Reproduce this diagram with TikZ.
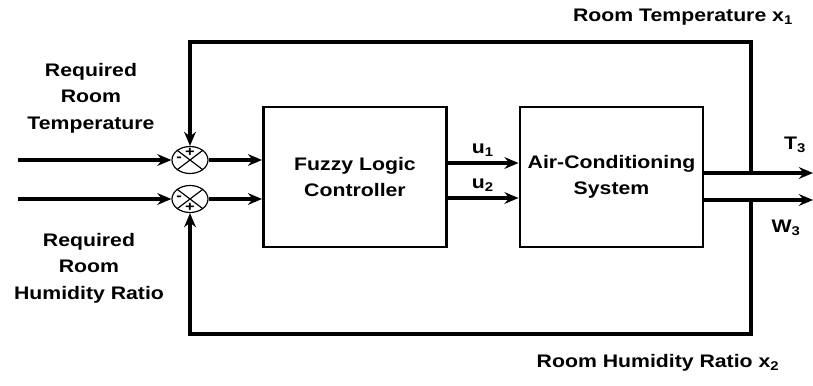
\documentclass[tikz,border=0pt]{standalone}
\usepackage{fontspec}
\setmainfont{Liberation Sans}[FakeStretch=1.17]
\usetikzlibrary{arrows.meta,shapes.geometric}

\begin{document}
\begin{tikzpicture}[x=0.03cm, y=-0.03cm, >={Stealth[length=12pt,width=10pt]},
  font=\fontsize{15.5}{22.7}\selectfont\bfseries, line width=2.6pt,
  block/.style={draw, rectangle, minimum width=5.5cm, minimum height=4.2cm, line width=2.2pt, align=center},
  summer/.style={draw, ellipse, minimum width=1.08cm, minimum height=0.81cm, inner sep=0pt, line width=1pt},
  sign/.style={font=\fontsize{12}{12}\selectfont\bfseries, inner sep=0pt}]

\useasboundingbox (0,0) rectangle (813,385);

% blocks
\node [block] (flc) at (355,177) {Fuzzy Logic\\Controller};
\node [block] (acs) at (611.5,177) {Air-Conditioning\\System};

% summing junctions
\foreach \n/\y in {1/160,2/199}{
  \node [summer] (sum-\n) at (190,\y) {};
  \draw [line width=1pt] (sum-\n.north east) -- (sum-\n.south west)
    (sum-\n.north west) -- (sum-\n.south east);
  \coordinate (in-\n) at (18,\y);
  \draw [->] (in-\n) -- (sum-\n.west);
  \draw [->] (sum-\n.east) -- (sum-\n -| flc.west);
}
\node [sign] (p-1) at (190,152) {+};
\node [sign] (m-1) at (179,159) {-};
\node [sign] (m-2) at (179,198) {-};
\node [sign] (p-2) at (190,207) {+};

% controls u1, u2
\foreach \n/\y in {1/163,2/198}{
  \coordinate (u-\n) at (447,\y);
  \draw [->] (u-\n) -- (u-\n -| acs.west) node [above, midway, yshift=1pt] {u\textsubscript{\n}};
}

% outputs and feedback
\coordinate (tap-T) at (751,173);
\coordinate (tap-W) at (751,200);
\coordinate (out-T) at (813,173);
\coordinate (out-W) at (813,200);
\draw [->] (tap-T -| acs.east) -- (out-T);
\draw [->] (tap-W -| acs.east) -- (out-W);
\coordinate (top) at (751,42);
\coordinate (bot) at (751,334);
\draw [->] (tap-T) -- (top) -| (sum-1.north);
\draw [->] (tap-W) -- (bot) -| (sum-2.south);

% labels
\node (lbl-T3) at (795,145) {T\textsubscript{3}};
\node (lbl-W3) at (786,228) {W\textsubscript{3}};
\node (lbl-x1) at (683,17) {Room Temperature x\textsubscript{1}};
\node (lbl-x2) at (658,363) {Room Humidity Ratio x\textsubscript{2}};
\node [align=center] (lbl-ref1) at (91,98) {Required\\Room\\Temperature};
\node [align=center] (lbl-ref2) at (89,268) {Required\\Room\\Humidity Ratio};
\end{tikzpicture}
\end{document}
